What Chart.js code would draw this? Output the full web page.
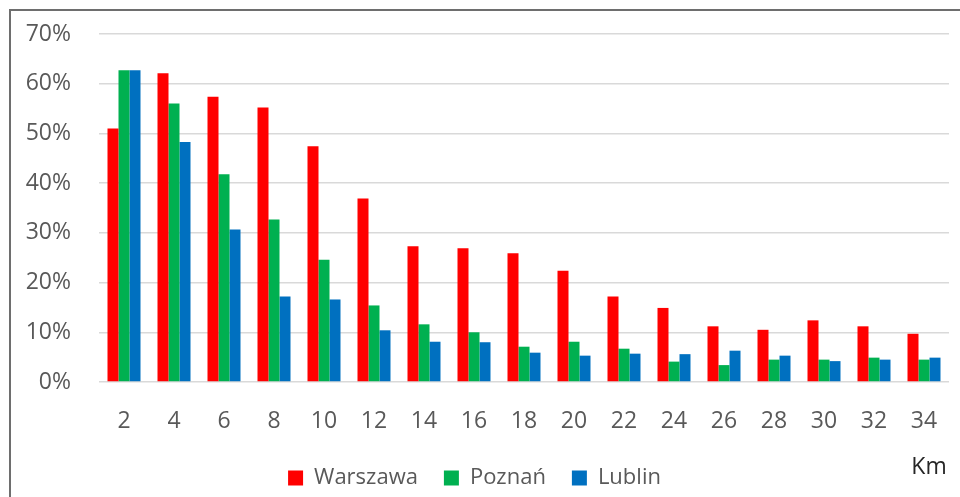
<!DOCTYPE html>
<html>
<head>
<meta charset="utf-8">
<script src="https://cdn.jsdelivr.net/npm/chart.js@4.4.0/dist/chart.umd.min.js"></script>
<style>
  html, body { margin: 0; padding: 0; background: #fff; }
  #wrap { position: relative; width: 960px; height: 497px; }
  #frame { position: absolute; left: 9px; top: 9px; right: -2px; bottom: -2px; border-top: 2px solid #6e6e6e; border-left: 2px solid #6e6e6e; }
  canvas { position: absolute; left: 0; top: 0; }
</style>
</head>
<body>
<div id="wrap">
  <div id="frame"></div>
  <canvas id="myChart" width="960" height="497"></canvas>
</div>
<script>
  // odległość w km
  const categories = ["2", "4", "6", "8", "10", "12", "14", "16", "18", "20", "22", "24", "26", "28", "30", "32", "34"];

  // udział w %
  const warszawa = [51.0, 62.1, 57.4, 55.2, 47.4, 36.9, 27.3, 26.9, 25.9, 22.4, 17.2, 14.9, 11.2, 10.5, 12.4, 11.2, 9.7];
  const poznan   = [62.7, 56.0, 41.8, 32.7, 24.6, 15.4, 11.6, 10.0, 7.1, 8.1, 6.7, 4.1, 3.4, 4.5, 4.5, 4.9, 4.5];
  const lublin   = [62.7, 48.3, 30.7, 17.2, 16.6, 10.4, 8.1, 8.0, 5.9, 5.3, 5.7, 5.6, 6.3, 5.3, 4.2, 4.5, 4.9];

  const yTicks = [0, 10, 20, 30, 40, 50, 60, 70];
  const axisTitle = "Km";

  const fontFamily = "'Open Sans', 'Noto Sans', sans-serif";
  const textColor = "#595959";

  // napis "Km" w prawym dolnym rogu
  const kmLabel = {
    id: "kmLabel",
    afterDraw(chart) {
      const ctx = chart.ctx;
      ctx.save();
      ctx.font = "23px " + fontFamily;
      ctx.fillStyle = "#262626";
      ctx.textAlign = "center";
      ctx.textBaseline = "middle";
      ctx.fillText(axisTitle, 929, 467);
      ctx.restore();
    }
  };

  new Chart("myChart", {
    type: "bar",
    data: {
      labels: categories,
      datasets: [
        { label: "Warszawa", data: warszawa, backgroundColor: "#FF0000" },
        { label: "Poznań", data: poznan, backgroundColor: "#00B050" },
        { label: "Lublin", data: lublin, backgroundColor: "#0070C0" }
      ]
    },
    options: {
      responsive: false,
      animation: false,
      layout: { padding: { top: 34, right: 11, left: 0, bottom: -2 } },
      datasets: {
        bar: { categoryPercentage: 0.66, barPercentage: 1.0 }
      },
      scales: {
        x: {
          grid: { display: false },
          border: { display: false },
          ticks: { color: textColor, font: { family: fontFamily, size: 23 }, padding: 18, maxRotation: 0 },
          afterFit(scale) { scale.height = 59; }
        },
        y: {
          min: 0,
          max: 70,
          afterBuildTicks(scale) { scale.ticks = yTicks.map(v => ({ value: v })); },
          grid: { color: "#d9d9d9", lineWidth: 1.5, drawTicks: false },
          border: { display: false },
          ticks: {
            color: textColor,
            font: { family: fontFamily, size: 23 },
            padding: 28,
            callback: v => v + "%"
          },
          afterFit(scale) {
            scale.width = 99;
            scale.paddingTop = 0;
            scale.paddingBottom = 0;
          }
        }
      },
      plugins: {
        legend: {
          position: "bottom",
          labels: {
            color: textColor,
            font: { family: fontFamily, size: 22 },
            boxWidth: 15,
            boxHeight: 15,
            padding: 26
          }
        },
        tooltip: { enabled: false }
      }
    },
    plugins: [kmLabel]
  });
</script>
</body>
</html>
